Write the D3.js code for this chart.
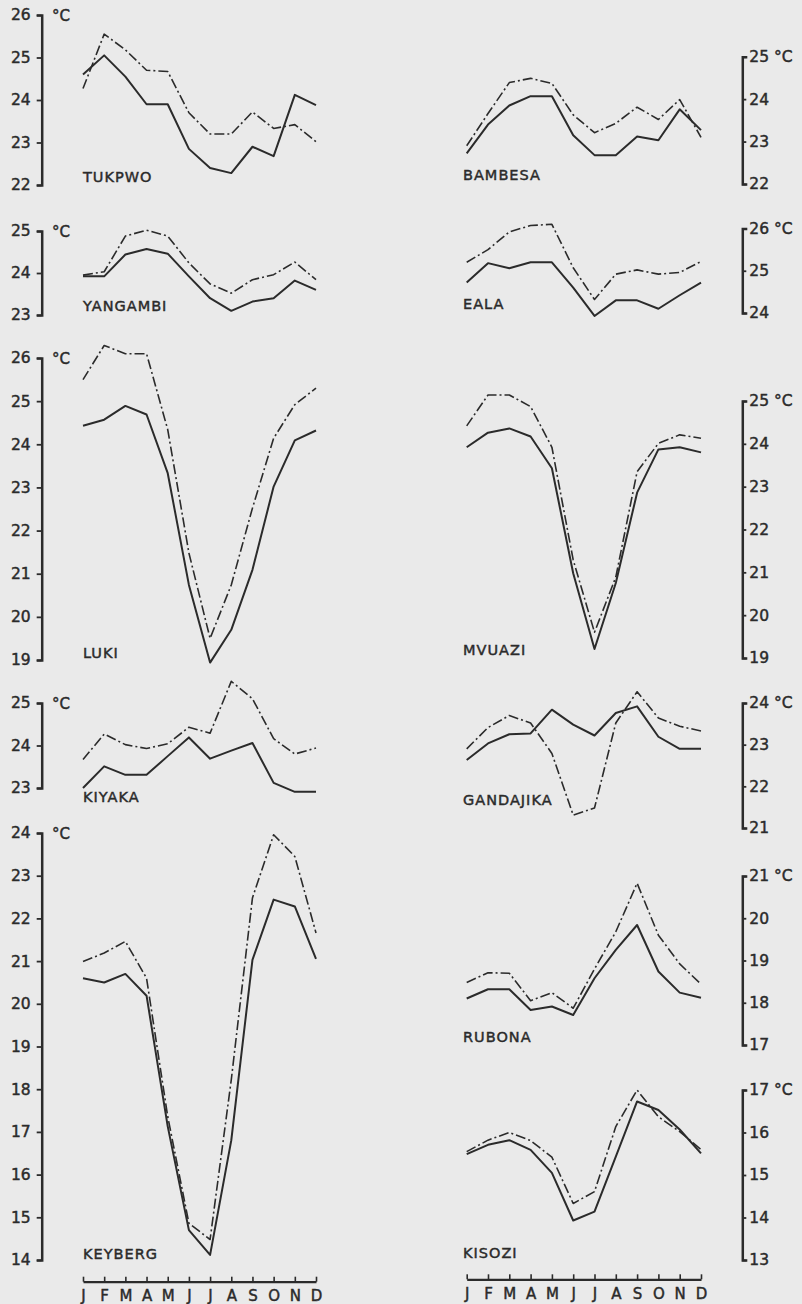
<!DOCTYPE html>
<html>
<head>
<meta charset="utf-8">
<script src="https://cdn.jsdelivr.net/npm/d3@7"></script>
<style>
  html, body { margin: 0; padding: 0; background: #eaeaea; }
  svg { display: block; }
  text { font-family: "DejaVu Sans", sans-serif; fill: #2b2b2b; stroke: #2b2b2b; stroke-width: 0.45px; }
</style>
</head>
<body>
<svg id="chart" width="802" height="1304"></svg>
<script>
// ---------------- DATA ----------------
const months = ["J","F","M","A","M2","J2","J3","A2","S","O","N","D"];
const monthLabels = ["J","F","M","A","M","J","J","A","S","O","N","D"];

const tukpwoSolid   = [24.6, 25.05, 24.55, 23.9, 23.9, 22.85, 22.4, 22.28, 22.9, 22.68, 24.12, 23.88];
const tukpwoDash    = [24.27, 25.55, 25.18, 24.7, 24.67, 23.7, 23.2, 23.2, 23.72, 23.33, 23.42, 23.02];
const bambesaSolid  = [22.72, 23.4, 23.85, 24.07, 24.07, 23.15, 22.68, 22.68, 23.12, 23.03, 23.76, 23.27];
const bambesaDash   = [22.9, 23.66, 24.39, 24.49, 24.37, 23.63, 23.21, 23.43, 23.81, 23.52, 23.99, 23.1];
const yangambiSolid = [23.92, 23.92, 24.44, 24.57, 24.46, 23.92, 23.4, 23.1, 23.32, 23.4, 23.82, 23.6];
const yangambiDash  = [23.95, 24.03, 24.88, 25.02, 24.88, 24.24, 23.74, 23.52, 23.84, 23.96, 24.26, 23.84];
const ealaSolid     = [24.72, 25.18, 25.06, 25.2, 25.2, 24.6, 23.93, 24.3, 24.3, 24.1, 24.42, 24.72];
const ealaDash      = [25.2, 25.5, 25.92, 26.07, 26.1, 25.07, 24.32, 24.92, 25.02, 24.92, 24.96, 25.22];
const lukiSolid     = [24.43, 24.57, 24.89, 24.69, 23.33, 20.74, 18.94, 19.7, 21.09, 23.02, 24.09, 24.32];
const lukiDash      = [25.5, 26.29, 26.1, 26.1, 24.34, 21.48, 19.5, 20.74, 22.52, 24.14, 24.92, 25.3];
const mvuaziSolid   = [23.92, 24.26, 24.36, 24.17, 23.43, 20.98, 19.21, 20.75, 22.86, 23.87, 23.92, 23.8];
const mvuaziDash    = [24.42, 25.14, 25.14, 24.87, 23.92, 21.29, 19.6, 20.89, 23.35, 24.01, 24.21, 24.13];
const kiyakaSolid   = [23.0, 23.51, 23.31, 23.31, 23.75, 24.19, 23.69, 23.88, 24.06, 23.12, 22.91, 22.91];
const kiyakaDash    = [23.67, 24.27, 24.02, 23.93, 24.04, 24.43, 24.29, 25.51, 25.1, 24.16, 23.8, 23.94];
const gandajikaSolid= [22.63, 23.03, 23.25, 23.27, 23.84, 23.48, 23.22, 23.76, 23.92, 23.19, 22.9, 22.9];
const gandajikaDash = [22.9, 23.41, 23.7, 23.52, 22.79, 21.31, 21.48, 23.52, 24.27, 23.64, 23.44, 23.33];
const keybergSolid  = [20.6, 20.5, 20.7, 20.19, 17.13, 14.7, 14.12, 16.8, 21.03, 22.44, 22.28, 21.05];
const keybergDash   = [20.99, 21.19, 21.46, 20.6, 17.36, 14.86, 14.48, 18.22, 22.48, 23.96, 23.45, 21.66];
const rubonaSolid   = [18.1, 18.32, 18.32, 17.83, 17.91, 17.71, 18.58, 19.25, 19.84, 18.74, 18.24, 18.12];
const rubonaDash    = [18.48, 18.71, 18.7, 18.05, 18.24, 17.87, 18.8, 19.68, 20.83, 19.6, 18.92, 18.44];
const kisoziSolid   = [15.49, 15.71, 15.82, 15.59, 15.05, 13.93, 14.14, 15.43, 16.73, 16.53, 16.07, 15.51];
const kisoziDash    = [15.55, 15.82, 16.0, 15.81, 15.42, 14.33, 14.61, 16.14, 17.0, 16.37, 16.02, 15.6];

// Axis tick values per station
const tukpwoTicks    = [22, 23, 24, 25, 26];
const bambesaTicks   = [22, 23, 24, 25];
const yangambiTicks  = [23, 24, 25];
const ealaTicks      = [24, 25, 26];
const lukiTicks      = [19, 20, 21, 22, 23, 24, 25, 26];
const mvuaziTicks    = [19, 20, 21, 22, 23, 24, 25];
const kiyakaTicks    = [23, 24, 25];
const gandajikaTicks = [21, 22, 23, 24];
const keybergTicks   = [14, 15, 16, 17, 18, 19, 20, 21, 22, 23, 24];
const rubonaTicks    = [17, 18, 19, 20, 21];
const kisoziTicks    = [13, 14, 15, 16, 17];

// ---------------- LAYOUT ----------------
const panels = [
  {side:"L", name:"TUKPWO",    solid:tukpwoSolid,    dash:tukpwoDash,    ticks:tukpwoTicks,    top:15,    bot:185,  nameY:182},
  {side:"R", name:"BAMBESA",   solid:bambesaSolid,   dash:bambesaDash,   ticks:bambesaTicks,   top:56.7,  bot:184,  nameY:180},
  {side:"L", name:"YANGAMBI",  solid:yangambiSolid,  dash:yangambiDash,  ticks:yangambiTicks,  top:231,   bot:315,  nameY:311},
  {side:"R", name:"EALA",      solid:ealaSolid,      dash:ealaDash,      ticks:ealaTicks,      top:228.5, bot:313,  nameY:309},
  {side:"L", name:"LUKI",      solid:lukiSolid,      dash:lukiDash,      ticks:lukiTicks,      top:358,   bot:660,  nameY:658},
  {side:"R", name:"MVUAZI",    solid:mvuaziSolid,    dash:mvuaziDash,    ticks:mvuaziTicks,    top:401,   bot:658,  nameY:655},
  {side:"L", name:"KIYAKA",    solid:kiyakaSolid,    dash:kiyakaDash,    ticks:kiyakaTicks,    top:703,   bot:788,  nameY:802},
  {side:"R", name:"GANDAJIKA", solid:gandajikaSolid, dash:gandajikaDash, ticks:gandajikaTicks, top:703,   bot:828,  nameY:805},
  {side:"L", name:"KEYBERG",   solid:keybergSolid,   dash:keybergDash,   ticks:keybergTicks,   top:833,   bot:1260, nameY:1259},
  {side:"R", name:"RUBONA",    solid:rubonaSolid,    dash:rubonaDash,    ticks:rubonaTicks,    top:876,   bot:1045, nameY:1042},
  {side:"R", name:"KISOZI",    solid:kisoziSolid,    dash:kisoziDash,    ticks:kisoziTicks,    top:1090,  bot:1260, nameY:1258}
];

const svg = d3.select("#chart");
const xL = d3.scalePoint().domain(months).range([83, 316]);
const xR = d3.scalePoint().domain(months).range([466.7, 701]);
const axisXL = 41.7, axisXR = 742.3;
const ink = "#2b2b2b";

panels.forEach(p => {
  const x = p.side === "L" ? xL : xR;
  const lo = d3.min(p.ticks), hi = d3.max(p.ticks);
  const y = d3.scaleLinear().domain([lo, hi]).range([p.bot, p.top]);
  const g = svg.append("g");

  if (p.side === "L") {
    const ax = d3.axisLeft(y).tickValues(p.ticks).tickSizeInner(5).tickSizeOuter(5).tickPadding(6)
      .tickFormat(d3.format("d"));
    const a = g.append("g").attr("transform", `translate(${axisXL},0)`).call(ax);
    styleAxis(a);
    g.append("text").attr("x", 52).attr("y", p.top + 6).attr("font-size", 15).text("°C");
  } else {
    const ax = d3.axisRight(y).tickValues(p.ticks).tickSizeInner(4).tickSizeOuter(5).tickPadding(3)
      .tickFormat(d => d === hi ? d + " °C" : d);
    const a = g.append("g").attr("transform", `translate(${axisXR},0)`).call(ax);
    styleAxis(a);
  }

  const line = d3.line().x((d, i) => x(months[i])).y(d => y(d));
  g.append("path").datum(p.dash).attr("d", line)
    .attr("fill", "none").attr("stroke", ink).attr("stroke-width", 1.6)
    .attr("stroke-dasharray", "10,3,2,3").attr("stroke-linejoin", "round");
  g.append("path").datum(p.solid).attr("d", line)
    .attr("fill", "none").attr("stroke", ink).attr("stroke-width", 2)
    .attr("stroke-linejoin", "round");

  g.append("text").attr("x", p.side === "L" ? 83 : 463).attr("y", p.nameY)
    .attr("font-size", 14.5).attr("letter-spacing", 1).text(p.name);
});

function styleAxis(a) {
  a.select(".domain").attr("stroke", ink).attr("stroke-width", 2.5).attr("fill", "none");
  a.selectAll(".tick line").attr("stroke", ink).attr("stroke-width", 1.8);
  a.selectAll(".tick text").attr("font-size", 15.5).attr("fill", ink)
    .attr("font-family", "DejaVu Sans, sans-serif");
}

[[xL, 1281.7], [xR, 1279.3]].forEach(([x, yy]) => {
  const ax = d3.axisBottom(x).tickSizeInner(-5).tickSizeOuter(0).tickPadding(9)
    .tickFormat((d, i) => monthLabels[i]);
  const a = svg.append("g").attr("transform", `translate(0,${yy})`).call(ax);
  a.select(".domain").attr("stroke", ink).attr("stroke-width", 2.2);
  a.selectAll(".tick line").attr("stroke", ink).attr("stroke-width", 1.6);
  a.selectAll(".tick text").attr("font-size", 15).attr("fill", ink)
    .attr("font-family", "DejaVu Sans, sans-serif");
});
</script>
</body>
</html>
